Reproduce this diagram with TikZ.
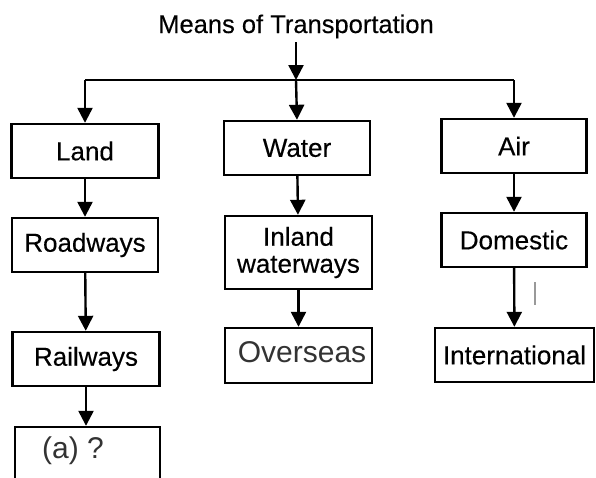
\documentclass[tikz,border=0pt]{standalone}
\usepackage{fontspec}
\setmainfont{Liberation Sans}
\newfontfamily\heavysans[FakeBold=0.3]{Liberation Sans}
\usetikzlibrary{arrows.meta}
\begin{document}
\begin{tikzpicture}[x=1pt,y=-1pt,
  box/.style={draw=black,line width=2.4pt,inner sep=0pt,font=\heavysans\fontsize{26}{27}\selectfont},
  thin label/.style={font=\fontsize{30}{32}\selectfont,text=black!80},
  link/.style={line width=2.4pt,-{Triangle[width=15pt,length=15pt]}}]
\useasboundingbox (0,0) rectangle (596,477);
\clip (0,0) rectangle (596,477);
% heading
\node[font=\heavysans\fontsize{25.5}{27}\selectfont,anchor=base,inner sep=0pt] (title) at (296,33) {Means of Transportation};
\coordinate (hub) at (296,80);
\coordinate (busL) at (85,80);
\coordinate (busR) at (514,80);
% land column
\node[box,minimum width=147pt,minimum height=54pt] (land) at (85,151) {Land};
\node[box,minimum width=146pt,minimum height=54pt] (road) at (85,245) {Roadways};
\node[box,minimum width=147pt,minimum height=54pt] (rail) at (86,359) {Railways};
\node[box,minimum width=145pt,minimum height=80pt] (qa) at (87.5,467) {};
\node[thin label,anchor=base,inner sep=0pt] (qtext) at (73,458) {(a) ?};
% water column
\node[box,minimum width=146pt,minimum height=54pt] (water) at (297,148) {Water};
\node[box,minimum width=147pt,minimum height=73pt,align=center] (inland) at (298.5,252.5) {Inland\\waterways};
\node[box,minimum width=147pt,minimum height=55pt] (over) at (298.5,355.5) {};
\node[thin label,anchor=base,inner sep=0pt] (overtext) at (302,362) {Overseas};
% air column
\node[box,minimum width=145pt,minimum height=54pt] (air) at (514,146) {Air};
\node[box,minimum width=145pt,minimum height=54pt] (dom) at (514,240) {Domestic};
\node[box,minimum width=159pt,minimum height=54pt] (intl) at (514.5,355) {International};
% connectors
\draw[link] (title.south -| hub) ++(0,4) -- (hub);
\draw[line width=2.4pt] (busL) -- (busR);
\draw[link] (busL) -- (land.north);
\draw[link] (hub) -- (water.north);
\draw[link] (busR) -- (air.north);
\draw[link] (land) -- (road);
\draw[link] (road) -- (rail);
\draw[link] (rail) -- (qa.north -| rail);
\draw[link] (water) -- (inland);
\draw[link] (inland) -- (over);
\draw[link] (air) -- (dom);
\draw[link] (dom) -- (intl);
% stray pen mark
\draw[black!40,line width=1.2pt] (535,282) -- (535,305);
\end{tikzpicture}
\end{document}
